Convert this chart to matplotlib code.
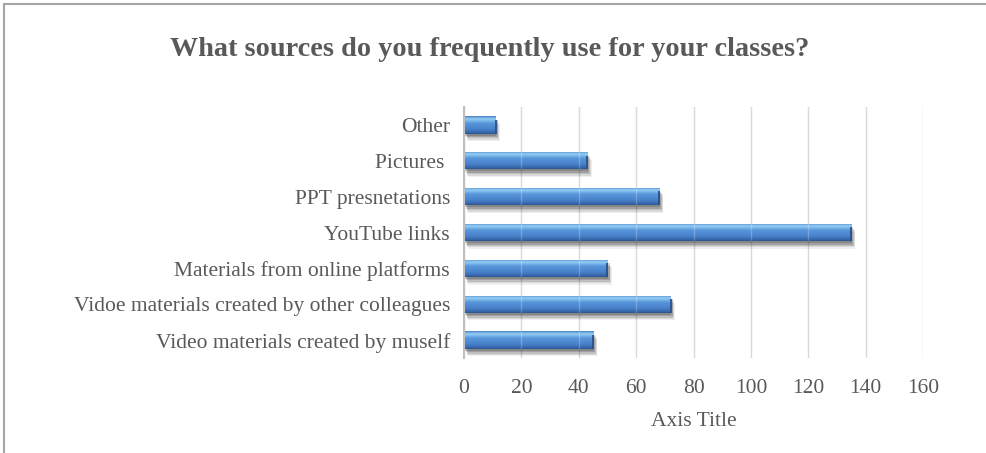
import numpy as np
import matplotlib
matplotlib.use("Agg")
import matplotlib.pyplot as plt
import matplotlib.patheffects as pe
from matplotlib.colors import LinearSegmentedColormap
from matplotlib.lines import Line2D

# data (bottom to top, as drawn)
sources = ["Video materials created by muself",
           "Vidoe materials created by other colleagues",
           "Materials from online platforms",
           "YouTube links",
           "PPT presnetations",
           "Pictures ",
           "Other"]
counts = [45, 72, 50, 135, 68, 43, 11]
xticks = [0, 20, 40, 60, 80, 100, 120, 140, 160]

plt.rcParams['font.family'] = ['Liberation Serif', 'DejaVu Serif']
grey = '#595959'

fig = plt.figure(figsize=(9.86, 4.53), dpi=100)
ax = fig.add_axes([0.4706, 0.2097, 0.4655, 0.5541])

# chart frame (only top and left edges are visible)
fig.add_artist(Line2D([0.004, 1.0], [0.991, 0.991], transform=fig.transFigure,
                      color='#a6a6a6', lw=1.5))
fig.add_artist(Line2D([0.0045, 0.0045], [0.0, 0.991], transform=fig.transFigure,
                      color='#a6a6a6', lw=1.5))

# vertical gradient for the bevelled bars (bottom -> top)
bar_cmap = LinearSegmentedColormap.from_list('bevel', [
    (0.0, '#2c5590'),
    (0.12, '#3b6db5'),
    (0.30, '#4a84cc'),
    (0.60, '#5895da'),
    (0.72, '#72b0e8'),
    (0.82, '#92ccf3'),
    (0.90, '#7fb9ea'),
    (1.0, '#4a7fc0')])
grad = np.linspace(0, 1, 64).reshape(-1, 1)

# soft drop shadow made of a few faint layers
shadow = [pe.SimplePatchShadow(offset=(dx, dy), shadow_rgbFace='#2a2a2a', alpha=a)
          for dx, dy, a in [(0.5, -1.5, 0.22), (1.5, -2.5, 0.19), (2, -3.5, 0.15),
                            (2.5, -4.5, 0.11), (3, -5.5, 0.07)]]

h = 0.48
ypos = np.arange(len(sources))
bars = ax.barh(ypos, counts, height=h, color='#4a82c6', edgecolor='none',
               zorder=2, path_effects=shadow + [pe.Normal()])
for b in bars:
    x0, y0 = b.get_x(), b.get_y()
    w, hh = b.get_width(), b.get_height()
    im = ax.imshow(grad, extent=[x0, x0 + w, y0, y0 + hh], origin='lower',
                   cmap=bar_cmap, aspect='auto', zorder=3, interpolation='bilinear')
    im.set_clip_path(b)
    # gridlines faintly visible through the bar
    for t in xticks:
        if x0 < t < x0 + w:
            ln = ax.plot([t, t], [y0, y0 + hh], color='white', alpha=0.22, lw=1.0, zorder=4)[0]
            ln.set_clip_path(b)
    # darker end face of the bevel
    ax.plot([x0 + w, x0 + w], [y0, y0 + hh * 0.8], color='#2a5088', lw=1.3, zorder=4,
            solid_capstyle='butt')

ax.set_xlim(0, 160)
ax.set_ylim(-0.5, len(sources) - 0.5)
ax.set_xticks(xticks)
ax.set_yticks(ypos)
ax.set_yticklabels(sources)

ax.grid(axis='x', color='#d9d9d9', lw=1.0, zorder=1)
ax.set_axisbelow(True)
for s in ['top', 'right', 'bottom']:
    ax.spines[s].set_visible(False)
ax.spines['left'].set_color('#bfbfbf')
ax.spines['left'].set_linewidth(1.5)
ax.spines['left'].set_zorder(5)

ax.tick_params(axis='both', length=0, labelsize=15.5, labelcolor=grey)
ax.tick_params(axis='x', pad=15)
ax.tick_params(axis='y', pad=10)

ax.set_xlabel('Axis Title', fontsize=15.5, color=grey, labelpad=10)

fig.text(0.497, 0.89, 'What sources do you frequently use for your classes?',
         ha='center', va='center', fontsize=20.3, fontweight='bold', color=grey)

fig.savefig('out.png', dpi=100)
